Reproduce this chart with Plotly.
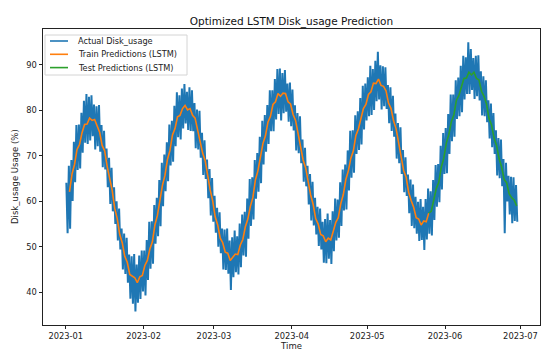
import pandas as pd
import plotly.graph_objects as go

# ---- data ----
start_date = "2023-01-01"

# daily upper / lower extent of the noisy actual series (days 0..179)
actual_high = [64.1, 67.8, 69.1, 73.1, 76.8, 76.9, 79.5, 82.1, 83.6, 83.0,
               83.3, 81.3, 80.9, 81.2, 76.8, 75.5, 71.6, 69.6, 67.4, 63.1,
               60.0, 58.4, 54.0, 52.9, 52.0, 48.3, 47.9, 48.4, 46.1, 48.1,
               49.2, 49.2, 51.5, 55.5, 55.6, 59.2, 60.8, 64.7, 68.5, 70.3,
               73.0, 76.9, 77.7, 81.0, 84.0, 83.3, 84.8, 85.8, 84.1, 85.1,
               84.4, 81.6, 80.2, 79.9, 75.1, 73.4, 69.2, 67.1, 65.1, 61.2,
               58.6, 57.6, 54.0, 53.8, 54.0, 51.4, 52.1, 53.6, 52.3, 55.1,
               57.1, 57.7, 60.6, 64.9, 65.3, 69.1, 70.6, 74.2, 77.7, 79.0,
               81.2, 84.4, 84.4, 86.9, 89.1, 89.2, 88.2, 88.9, 85.9, 86.1,
               84.6, 81.1, 79.4, 78.7, 73.6, 71.8, 67.8, 66.0, 64.3, 60.8,
               58.8, 58.4, 55.5, 56.1, 57.3, 55.9, 57.8, 60.6, 60.4, 64.2,
               67.0, 68.1, 71.2, 75.5, 75.6, 78.9, 79.8, 82.7, 85.4, 85.9,
               87.3, 89.8, 89.1, 90.9, 92.9, 89.9, 89.7, 89.5, 85.6, 85.1,
               83.2, 79.3, 77.2, 76.3, 71.3, 69.7, 65.9, 64.8, 63.7, 61.0,
               59.9, 60.5, 58.8, 60.5, 62.8, 62.2, 64.7, 68.0, 68.2, 72.2,
               75.0, 76.1, 79.2, 83.5, 83.5, 86.6, 87.2, 89.8, 92.0, 91.7,
               95.0, 93.5, 91.5, 92.0, 92.1, 88.6, 87.5, 86.6, 82.2, 81.5,
               79.4, 75.6, 73.9, 73.6, 69.3, 68.5, 65.6, 65.4, 65.3, 63.6]

actual_low = [53.0, 54.0, 60.1, 64.2, 66.9, 67.2, 70.7, 72.9, 72.6, 73.4,
              74.3, 71.4, 72.1, 70.9, 67.5, 67.0, 63.1, 59.4, 57.8, 55.0,
              51.4, 49.4, 45.0, 44.0, 42.1, 38.6, 37.5, 35.8, 37.7, 38.5,
              40.2, 39.3, 42.7, 45.2, 46.3, 50.7, 52.3, 54.5, 58.9, 62.2,
              64.4, 67.9, 68.7, 72.1, 74.1, 73.6, 76.0, 77.1, 75.7, 75.5,
              75.4, 71.7, 71.4, 69.6, 65.8, 64.9, 60.7, 56.9, 55.5, 53.1,
              50.0, 48.6, 45.0, 44.9, 44.1, 40.5, 43.3, 44.4, 43.9, 45.5,
              48.1, 47.8, 51.8, 54.6, 56.0, 60.6, 62.1, 64.0, 68.1, 70.9,
              72.6, 75.4, 75.4, 78.0, 79.2, 77.8, 79.4, 79.7, 77.5, 76.5,
              75.6, 71.2, 70.6, 68.4, 64.3, 63.3, 59.3, 55.8, 54.7, 52.7,
              50.2, 49.4, 46.5, 46.4, 47.4, 46.2, 49.0, 51.4, 52.0, 54.6,
              58.0, 58.2, 62.4, 65.2, 66.3, 70.4, 71.3, 72.5, 75.8, 77.8,
              78.7, 79.0, 80.1, 82.0, 82.4, 80.2, 80.9, 80.3, 77.2, 75.5,
              74.2, 69.4, 68.4, 66.0, 62.0, 61.2, 57.4, 54.6, 54.1, 52.9,
              51.3, 51.5, 49.3, 51.6, 52.9, 52.5, 55.9, 58.8, 59.8, 62.6,
              66.0, 66.2, 70.4, 73.2, 74.2, 78.1, 78.7, 79.6, 82.4, 83.6,
              83.6, 84.5, 82.5, 83.1, 82.2, 78.9, 78.7, 77.4, 73.8, 71.9,
              70.4, 65.7, 65.1, 63.3, 53.0, 60.0, 57.1, 55.2, 55.7, 55.5]

# LSTM train predictions (days 1..144)
train_pred = [62.1, 66.0, 68.1, 71.4, 72.5, 75.1, 76.9, 77.0, 78.3, 77.8,
              78.0, 76.4, 75.2, 72.3, 71.1, 67.7, 65.0, 62.4, 58.5, 56.2,
              52.7, 50.9, 47.9, 46.6, 43.9, 43.5, 43.2, 42.1, 43.4, 43.7,
              45.9, 47.0, 49.5, 51.1, 54.8, 56.9, 60.1, 63.5, 65.7, 69.2,
              71.2, 74.6, 76.0, 78.6, 78.9, 80.4, 81.1, 80.1, 80.4, 78.9,
              78.3, 75.7, 73.9, 70.6, 69.0, 65.3, 62.5, 60.1, 56.6, 54.8,
              51.9, 50.9, 48.8, 48.6, 47.0, 47.7, 48.4, 48.3, 50.4, 51.6,
              54.4, 56.1, 58.9, 60.8, 64.7, 66.7, 69.6, 72.7, 74.4, 77.4,
              78.7, 81.3, 81.9, 83.7, 83.1, 83.8, 83.7, 81.9, 81.4, 79.1,
              77.8, 74.9, 72.7, 69.1, 67.4, 63.9, 61.4, 59.3, 56.2, 55.0,
              52.7, 52.4, 51.1, 51.9, 51.5, 53.4, 55.4, 56.4, 59.5, 61.5,
              64.8, 66.7, 69.5, 71.1, 74.5, 75.9, 78.1, 80.4, 81.3, 83.5,
              84.1, 86.0, 85.9, 86.9, 85.5, 85.3, 84.3, 81.6, 80.4, 77.7,
              76.0, 72.7, 70.3, 66.8, 65.3, 62.0, 60.2, 58.7, 56.4, 56.1,
              54.8, 55.7, 55.5, 57.4]

# LSTM test predictions (days 144..179)
test_pred = [57.4, 57.8, 60.3, 62.8, 64.2, 67.5, 69.5, 72.8, 74.7, 77.5,
             79.0, 82.2, 83.3, 85.2, 87.0, 87.1, 88.4, 87.8, 88.4, 87.0,
             86.7, 84.2, 83.1, 81.4, 78.2, 76.8, 73.9, 72.3, 69.4, 67.6,
             64.8, 64.1, 61.7, 60.8, 60.3, 59.0]

tick_dates = ["2023-01-01", "2023-02-01", "2023-03-01", "2023-04-01",
              "2023-05-01", "2023-06-01", "2023-07-01"]
tick_labels = ["2023-01", "2023-02", "2023-03", "2023-04",
               "2023-05", "2023-06", "2023-07"]
y_ticks = [40, 50, 60, 70, 80, 90]

# ---- build series ----
days = pd.date_range(start_date, periods=len(actual_high), freq="D")
actual_x, actual_y = [], []
for d, hi, lo in zip(days, actual_high, actual_low):
    actual_x += [d + pd.Timedelta(hours=6), d + pd.Timedelta(hours=18)]
    actual_y += [hi, lo]

train_x = pd.date_range(pd.Timestamp(start_date) + pd.Timedelta(days=1, hours=12),
                        periods=len(train_pred), freq="D")
test_x = pd.date_range(train_x[-1], periods=len(test_pred), freq="D")

BLUE, ORANGE, GREEN = "#1f77b4", "#ff7f0e", "#2ca02c"
FONT = "DejaVu Sans, Liberation Sans, sans-serif"
TXT = "#222"

fig = go.Figure()
fig.add_trace(go.Scatter(x=actual_x, y=actual_y, mode="lines",
                         name="Actual Disk_usage",
                         line=dict(color=BLUE, width=2.0)))
fig.add_trace(go.Scatter(x=train_x, y=train_pred, mode="lines",
                         name="Train Predictions (LSTM)",
                         line=dict(color=ORANGE, width=1.6)))
fig.add_trace(go.Scatter(x=test_x, y=test_pred, mode="lines",
                         name="Test Predictions (LSTM)",
                         line=dict(color=GREEN, width=1.6)))

# ---- matplotlib-style legend box drawn in paper coordinates ----
PL, PT, PW, PH = 43, 29, 497, 296          # plot area in pixels


def px(x):
    return (x - PL) / PW


def py(y):
    return 1 - (y - PT) / PH


shapes = [dict(type="rect", xref="paper", yref="paper",
               x0=px(45), x1=px(187), y0=py(75), y1=py(35),
               line=dict(color="#d4d4d4", width=1),
               fillcolor="rgba(255,255,255,0.85)", layer="above")]
annotations = []
row_y = [41, 54.3, 67.6]
for tr, ry in zip(fig.data, row_y):
    shapes.append(dict(type="line", xref="paper", yref="paper",
                       x0=px(50), x1=px(68), y0=py(ry), y1=py(ry),
                       line=dict(color=tr.line.color, width=1.6), layer="above"))
    annotations.append(dict(xref="paper", yref="paper", x=px(76), y=py(ry),
                            xanchor="left", yanchor="middle", showarrow=False,
                            text=tr.name,
                            font=dict(family=FONT, size=8.2, color=TXT)))

# y-axis label placed like matplotlib's
annotations.append(dict(xref="paper", yref="paper", x=px(15), y=0.5,
                        xanchor="center", yanchor="middle", showarrow=False,
                        textangle=-90, text="Disk_usage Usage (%)",
                        font=dict(family=FONT, size=8.5, color=TXT)))

axis_common = dict(showline=True, mirror=True, linecolor=TXT, linewidth=0.9,
                   ticks="outside", ticklen=3.5, tickwidth=0.8, tickcolor=TXT,
                   showgrid=False, zeroline=False, automargin=False,
                   tickfont=dict(family=FONT, size=8.3, color=TXT))

fig.update_layout(
    width=554, height=351,
    margin=dict(l=PL, r=554 - PL - PW, t=PT, b=351 - PT - PH),
    paper_bgcolor="white", plot_bgcolor="white",
    font=dict(family=FONT, size=8.3, color=TXT),
    showlegend=False,
    title=dict(text="Optimized LSTM Disk_usage Prediction",
               x=0.5, xref="paper", xanchor="center",
               y=1 - 21.5 / 351, yref="container", yanchor="middle",
               font=dict(family=FONT, size=10.5, color="#111")),
    shapes=shapes,
    annotations=annotations,
    xaxis=dict(type="date", range=["2022-12-22 23:00", "2023-07-08 19:00"],
               tickvals=tick_dates, ticktext=tick_labels,
               title=dict(text="Time",
                          font=dict(family=FONT, size=8.5, color=TXT)),
               **axis_common),
    yaxis=dict(range=[32.8, 97.9], tickvals=y_ticks, **axis_common),
)

fig.write_html("out.html")
